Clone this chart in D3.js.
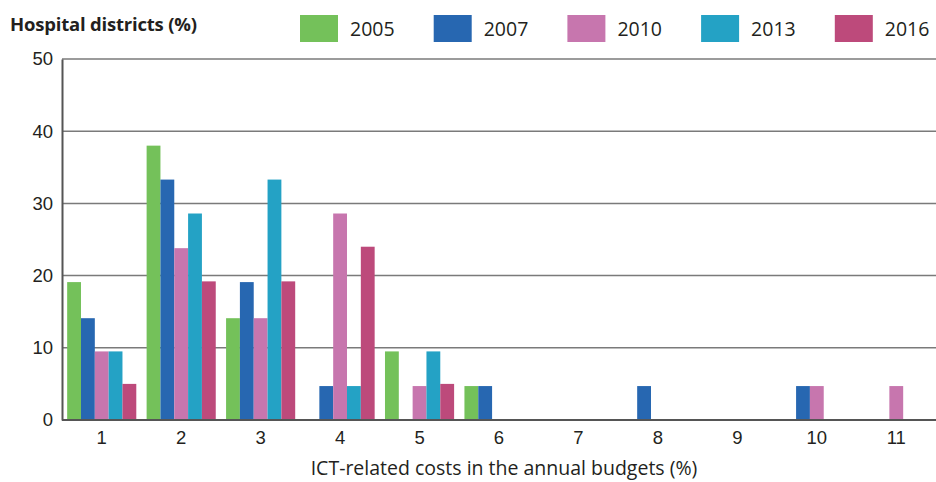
<!DOCTYPE html>
<meta charset="utf-8">
<style>
body { margin: 0; background: #fff; }
svg { font-family: "Open Sans", "Noto Sans", sans-serif; }
.grid line { stroke: #7a7a7a; stroke-width: 1.5px; }
.axis path, .axis line { stroke: #555; stroke-width: 2px; }
.axis text { font-size: 18.5px; fill: #231f20; }
</style>
<body>
<script src="https://d3js.org/d3.v7.min.js"></script>
<script>
var categories = ["1", "2", "3", "4", "5", "6", "7", "8", "9", "10", "11"];
var years = ["2005", "2007", "2010", "2013", "2016"];
var colors = ["#74c15a", "#2767b1", "#c776ae", "#24a2c5", "#bd4a7b"];

var v2005 = [19.1, 38.0, 14.1, 0, 9.5, 4.7, 0, 0, 0, 0, 0];
var v2007 = [14.1, 33.3, 19.1, 4.7, 0, 4.7, 0, 4.7, 0, 4.7, 0];
var v2010 = [9.5, 23.8, 14.1, 28.6, 4.7, 0, 0, 0, 0, 4.7, 4.7];
var v2013 = [9.5, 28.6, 33.3, 4.7, 9.5, 0, 0, 0, 0, 0, 0];
var v2016 = [5.0, 19.2, 19.2, 24.0, 5.0, 0, 0, 0, 0, 0, 0];
var series = [v2005, v2007, v2010, v2013, v2016];

var yTicks = [0, 10, 20, 30, 40, 50];

var width = 936, height = 482;
var margin = {top: 59, right: 0, bottom: 62, left: 62};

var svg = d3.select("body").append("svg")
    .attr("width", width)
    .attr("height", height);

var x = d3.scaleBand()
    .domain(categories)
    .range([margin.left, width - margin.right])
    .paddingInner(0.13)
    .paddingOuter(0.065);

var x1 = d3.scaleBand()
    .domain(years)
    .range([0, x.bandwidth()]);

var y = d3.scaleLinear()
    .domain([0, 50])
    .range([height - margin.bottom, margin.top]);

// gridlines
svg.append("g")
    .attr("class", "grid")
  .selectAll("line")
  .data(yTicks.filter(function(d) { return d > 0; }))
  .enter().append("line")
    .attr("x1", margin.left)
    .attr("x2", width)
    .attr("y1", function(d) { return y(d); })
    .attr("y2", function(d) { return y(d); });

// bars
var groups = svg.selectAll(".cat")
    .data(categories)
  .enter().append("g")
    .attr("class", "cat")
    .attr("transform", function(d) { return "translate(" + x(d) + ",0)"; });

groups.selectAll("rect")
    .data(function(d, i) {
      return years.map(function(yr, j) { return {year: yr, value: series[j][i], color: colors[j]}; });
    })
  .enter().append("rect")
    .filter(function(d) { return d.value > 0; })
    .attr("x", function(d) { return x1(d.year); })
    .attr("width", x1.bandwidth())
    .attr("y", function(d) { return y(d.value); })
    .attr("height", function(d) { return y(0) - y(d.value); })
    .attr("fill", function(d) { return d.color; });

// axes
var xAxis = svg.append("g")
    .attr("class", "axis")
    .attr("transform", "translate(0," + y(0) + ")")
    .call(d3.axisBottom(x).tickSize(0).tickPadding(11));
xAxis.select(".domain").attr("d", "M" + margin.left + ",0H" + width);

svg.append("g")
    .attr("class", "axis")
    .attr("transform", "translate(" + margin.left + ",0)")
    .call(d3.axisLeft(y).tickValues(yTicks).tickSize(0).tickPadding(9));

svg.append("text")
    .attr("x", 504)
    .attr("y", 475)
    .attr("text-anchor", "middle")
    .style("font-size", "19.5px")
    .attr("fill", "#231f20")
    .text("ICT-related costs in the annual budgets (%)");

svg.append("text")
    .attr("x", 10)
    .attr("y", 31)
    .style("font-size", "18.5px")
    .style("font-weight", "bold")
    .style("letter-spacing", "-0.2px")
    .attr("fill", "#231f20")
    .text("Hospital districts (%)");

// legend
var legend = svg.selectAll(".legend")
    .data(years)
  .enter().append("g")
    .attr("class", "legend")
    .attr("transform", function(d, i) { return "translate(" + (300 + i * 133.7) + ",15)"; });

legend.append("rect")
    .attr("width", 38)
    .attr("height", 27)
    .attr("fill", function(d, i) { return colors[i]; });

legend.append("text")
    .attr("x", 50)
    .attr("y", 21)
    .style("font-size", "19.5px")
    .attr("fill", "#231f20")
    .text(function(d) { return d; });
</script>
</body>
